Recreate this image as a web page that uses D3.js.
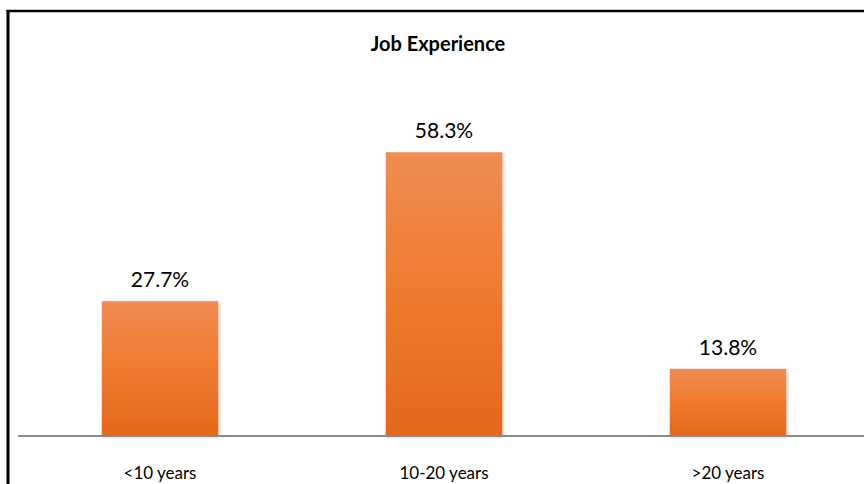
<!DOCTYPE html>
<html><head><meta charset="utf-8">
<script src="https://cdn.jsdelivr.net/npm/d3@7"></script>
<style>html,body{margin:0;padding:0;background:#fff;}svg{display:block;}</style>
</head><body>
<script>
const title = "Job Experience";
const categories = ["<10 years", "10-20 years", ">20 years"];
const values = [27.7, 58.3, 13.8];
const valueLabels = ["27.7%", "58.3%", "13.8%"];

const W = 864, H = 484;
const svg = d3.select("body").append("svg").attr("width", W).attr("height", H);

const defs = svg.append("defs");
const grad = defs.append("linearGradient").attr("id", "barGrad")
  .attr("x1", 0).attr("y1", 0).attr("x2", 0).attr("y2", 1);
grad.append("stop").attr("offset", "0%").attr("stop-color", "#F08C55");
grad.append("stop").attr("offset", "45%").attr("stop-color", "#F07C30");
grad.append("stop").attr("offset", "100%").attr("stop-color", "#E4681A");
const f = defs.append("filter").attr("id", "shadow").attr("x", "-10%").attr("y", "-10%").attr("width", "130%").attr("height", "130%");
f.append("feDropShadow").attr("dx", 1).attr("dy", 1).attr("stdDeviation", 1.5).attr("flood-color", "#000").attr("flood-opacity", 0.25);

// frame
svg.append("line").attr("x1", 8).attr("x2", 8).attr("y1", 10).attr("y2", H).attr("stroke", "#000").attr("stroke-width", 3);
svg.append("line").attr("x1", 6.5).attr("x2", W).attr("y1", 11).attr("y2", 11).attr("stroke", "#000").attr("stroke-width", 2.5);

const font = "Lato, 'Open Sans', sans-serif";

svg.append("text").attr("x", 438).attr("y", 51).attr("text-anchor", "middle")
  .attr("font-family", font).attr("font-weight", "bold")
  .attr("font-size", 20).attr("fill", "#000").text(title);

const x = d3.scaleBand().domain(categories).range([18, 870]).paddingInner(0.59).paddingOuter(0.295);
const y = d3.scaleLinear().domain([0, 60]).range([436, 144]);

svg.append("g").selectAll("rect").data(values).join("rect")
  .attr("x", (d, i) => x(categories[i]))
  .attr("width", x.bandwidth())
  .attr("y", d => y(d))
  .attr("height", d => y(0) - y(d))
  .attr("fill", "url(#barGrad)")
  .attr("filter", "url(#shadow)");

// baseline
svg.append("line").attr("x1", 18).attr("x2", W).attr("y1", y(0)).attr("y2", y(0))
  .attr("stroke", "#8a8a8a").attr("stroke-width", 2);

svg.append("g").selectAll("text").data(values).join("text")
  .attr("x", (d, i) => x(categories[i]) + x.bandwidth() / 2)
  .attr("y", d => y(d) - 14)
  .attr("text-anchor", "middle")
  .attr("font-family", font)
  .attr("font-size", 21).attr("fill", "#000")
  .text((d, i) => valueLabels[i]);

const xAxis = svg.append("g").attr("transform", `translate(0,${y(0)})`)
  .call(d3.axisBottom(x).tickSize(0).tickPadding(0));
xAxis.select(".domain").remove();
xAxis.selectAll("text").attr("dy", 0).attr("y", 43)
  .attr("font-family", font)
  .attr("font-size", 17).attr("fill", "#000");
</script>
</body></html>
